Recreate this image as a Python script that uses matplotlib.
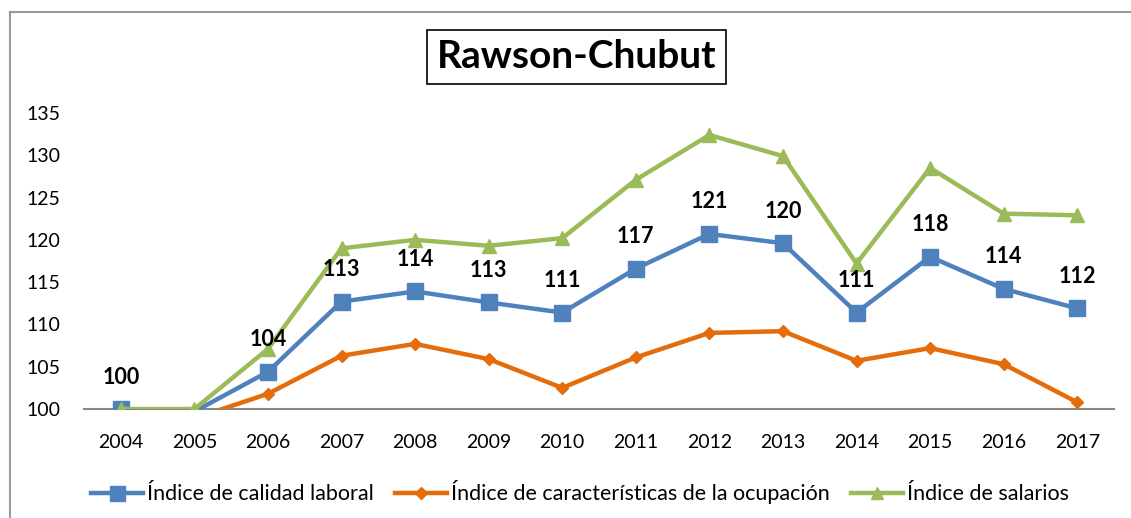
import matplotlib
matplotlib.use("Agg")
import matplotlib.pyplot as plt
from matplotlib.lines import Line2D

plt.rcParams['font.family'] = ['Lato', 'DejaVu Sans']

# Series
years = ["2004", "2005", "2006", "2007", "2008", "2009", "2010",
         "2011", "2012", "2013", "2014", "2015", "2016", "2017"]
calidad = [100, 99.7, 104.4, 112.7, 113.9, 112.6, 111.4,
           116.6, 120.7, 119.6, 111.4, 118.0, 114.2, 111.9]
ocupacion = [100, 98.9, 101.8, 106.3, 107.7, 105.9, 102.5,
             106.1, 109.0, 109.2, 105.7, 107.2, 105.3, 100.8]
salarios = [100, 100, 107.1, 119.0, 120.0, 119.3, 120.2,
            127.1, 132.4, 129.9, 117.2, 128.5, 123.1, 122.9]

blue = "#4F81BD"
orange = "#E46C0A"
green = "#9BBB59"
ymin, ymax = 100, 135


def visible(vals):
    # markers below the axis floor are not drawn
    return [i for i, v in enumerate(vals) if v >= ymin]


fig = plt.figure(figsize=(11.31, 5.18), dpi=100)
ax = fig.add_axes([0.0743, 0.2104, 0.9107, 0.5715])

x = list(range(len(years)))
ax.plot(x, calidad, color=blue, lw=3.2, marker='s', ms=12,
        markevery=visible(calidad), label="Índice de calidad laboral", zorder=3)
ax.plot(x, ocupacion, color=orange, lw=3.2, marker='D', ms=6.5,
        markevery=visible(ocupacion),
        label="Índice de características de la ocupación", zorder=2)
ax.plot(x, salarios, color=green, lw=3.2, marker='^', ms=10,
        markevery=visible(salarios), label="Índice de salarios", zorder=4)

# value labels on the quality index
for xi, v in zip(x, calidad):
    if v < ymin:
        continue
    ax.annotate(f"{v:.0f}", (xi, v), xytext=(0, 23), textcoords="offset points",
                ha="center", va="center", fontsize=15.5, fontweight="bold",
                annotation_clip=False, zorder=6)

ax.set_xlim(-0.5, len(years) - 0.5)
ax.set_ylim(ymin, ymax)
ax.set_yticks(range(ymin, ymax + 1, 5))
ax.set_xticks(x)
ax.set_xticklabels(years)
ax.tick_params(axis='both', length=0, labelsize=14)
ax.tick_params(axis='x', pad=18)
ax.tick_params(axis='y', pad=17)
for side in ["top", "right", "left"]:
    ax.spines[side].set_visible(False)
ax.spines["bottom"].set_color("#888888")
ax.spines["bottom"].set_linewidth(1.5)
ax.spines["bottom"].set_zorder(1)

# title in a box
fig.text(0.510, 0.890, "Rawson-Chubut", ha="center", va="center",
         fontsize=28, fontweight="bold",
         bbox=dict(boxstyle="square,pad=0.25", fc="white", ec="black", lw=1.2))

fig.legend(loc="center", bbox_to_anchor=(0.513, 0.050), ncol=3,
           frameon=False, fontsize=15.5, handlelength=2.4,
           handletextpad=0.2, columnspacing=1.0, markerscale=0.9)

# outer chart frame (left and top edges)
fx, fy = 10 / 1131, 1 - 12 / 518
fig.add_artist(Line2D([fx, fx], [0, fy], transform=fig.transFigure,
                      color="#999999", lw=1.5))
fig.add_artist(Line2D([fx, 1], [fy, fy], transform=fig.transFigure,
                      color="#999999", lw=1.5))

fig.savefig("out.png", dpi=100)
